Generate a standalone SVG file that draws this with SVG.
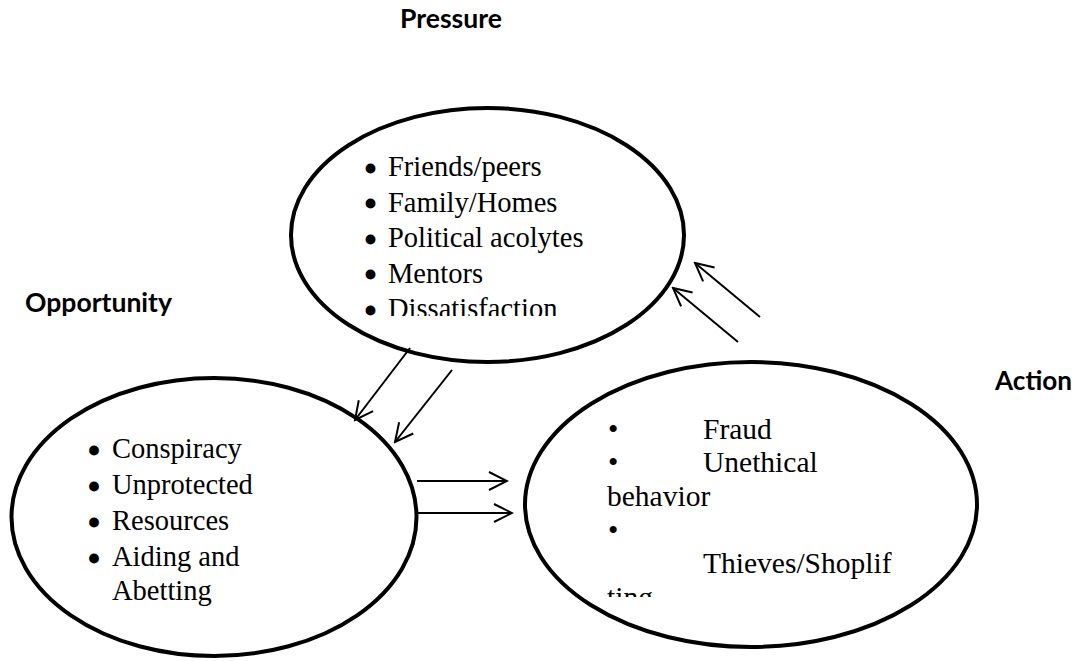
<svg xmlns="http://www.w3.org/2000/svg" width="1076" height="661" viewBox="0 0 1076 661">
<style>
.ell{fill:none;stroke:#000;stroke-width:4}
.lbl{font-family:Lato,"Open Sans","Liberation Sans",sans-serif;font-weight:bold;font-size:26px;fill:#000}
.t{font-family:"Liberation Serif","Times New Roman",serif;fill:#000;font-size:28.5px}
.b{stroke:#000;stroke-width:3}
.conn line{stroke:#000;stroke-width:2;marker-end:url(#ah)}
</style>
<defs>
<marker id="ah" viewBox="0 0 22 22" refX="20" refY="11" markerWidth="22" markerHeight="22" orient="auto" markerUnits="userSpaceOnUse">
<path d="M2,2 L20,11 L2,20" fill="none" stroke="#000" stroke-width="2"/>
</marker>
<clipPath id="cTop"><rect x="300" y="140" width="380" height="176"/></clipPath>
<clipPath id="cRight"><rect x="560" y="400" width="420" height="197"/></clipPath>
</defs>
<rect width="1076" height="661" fill="#fff"/>
<text class="lbl" x="400" y="28" textLength="102" lengthAdjust="spacingAndGlyphs">Pressure</text>
<text class="lbl" x="25" y="312" textLength="147" lengthAdjust="spacingAndGlyphs">Opportunity</text>
<text class="lbl" x="995" y="390" textLength="77" lengthAdjust="spacingAndGlyphs">Action</text>
<g id="pressure">
<ellipse class="ell" cx="487.5" cy="235" rx="196.5" ry="127"/>
<g class="t" clip-path="url(#cTop)">
<text x="365.5" y="176"><tspan class="b" dy="2.5">•</tspan><tspan x="388" dy="-2.5">Friends/peers</tspan></text>
<text x="365.5" y="211.5"><tspan class="b" dy="2.5">•</tspan><tspan x="388" dy="-2.5">Family/Homes</tspan></text>
<text x="365.5" y="247"><tspan class="b" dy="2.5">•</tspan><tspan x="388" dy="-2.5">Political acolytes</tspan></text>
<text x="365.5" y="282.5"><tspan class="b" dy="2.5">•</tspan><tspan x="388" dy="-2.5">Mentors</tspan></text>
<text x="365.5" y="318"><tspan class="b" dy="2.5">•</tspan><tspan x="388" dy="-2.5">Dissatisfaction</tspan></text>
</g>
</g>
<g id="opportunity">
<ellipse class="ell" cx="214" cy="517" rx="202.5" ry="139"/>
<g class="t">
<text x="89" y="458"><tspan class="b" dy="2.5">•</tspan><tspan x="112" dy="-2.5">Conspiracy</tspan></text>
<text x="89" y="494"><tspan class="b" dy="2.5">•</tspan><tspan x="112" dy="-2.5">Unprotected</tspan></text>
<text x="89" y="530"><tspan class="b" dy="2.5">•</tspan><tspan x="112" dy="-2.5">Resources</tspan></text>
<text x="89" y="566"><tspan class="b" dy="2.5">•</tspan><tspan x="112" dy="-2.5">Aiding and</tspan></text>
<text x="112" y="600">Abetting</text>
</g>
</g>
<g id="action">
<ellipse class="ell" cx="751" cy="504.5" rx="226" ry="142.5"/>
<g class="t" style="font-size:29.5px" clip-path="url(#cRight)">
<text x="608" y="439">•<tspan x="703">Fraud</tspan></text>
<text x="608" y="472">•<tspan x="703">Unethical</tspan></text>
<text x="607" y="506">behavior</text>
<text x="608" y="540">•</text>
<text x="703" y="573">Thieves/Shoplif</text>
<text x="607" y="607">ting</text>
</g>
</g>
<g class="conn" id="connectors">
<line x1="410" y1="348" x2="355" y2="420"/>
<line x1="452" y1="370" x2="395" y2="442"/>
<line x1="760" y1="317" x2="695" y2="263"/>
<line x1="738" y1="342" x2="673" y2="288"/>
<line x1="417" y1="481" x2="507" y2="481"/>
<line x1="418" y1="513" x2="512" y2="513"/>
</g>
</svg>
